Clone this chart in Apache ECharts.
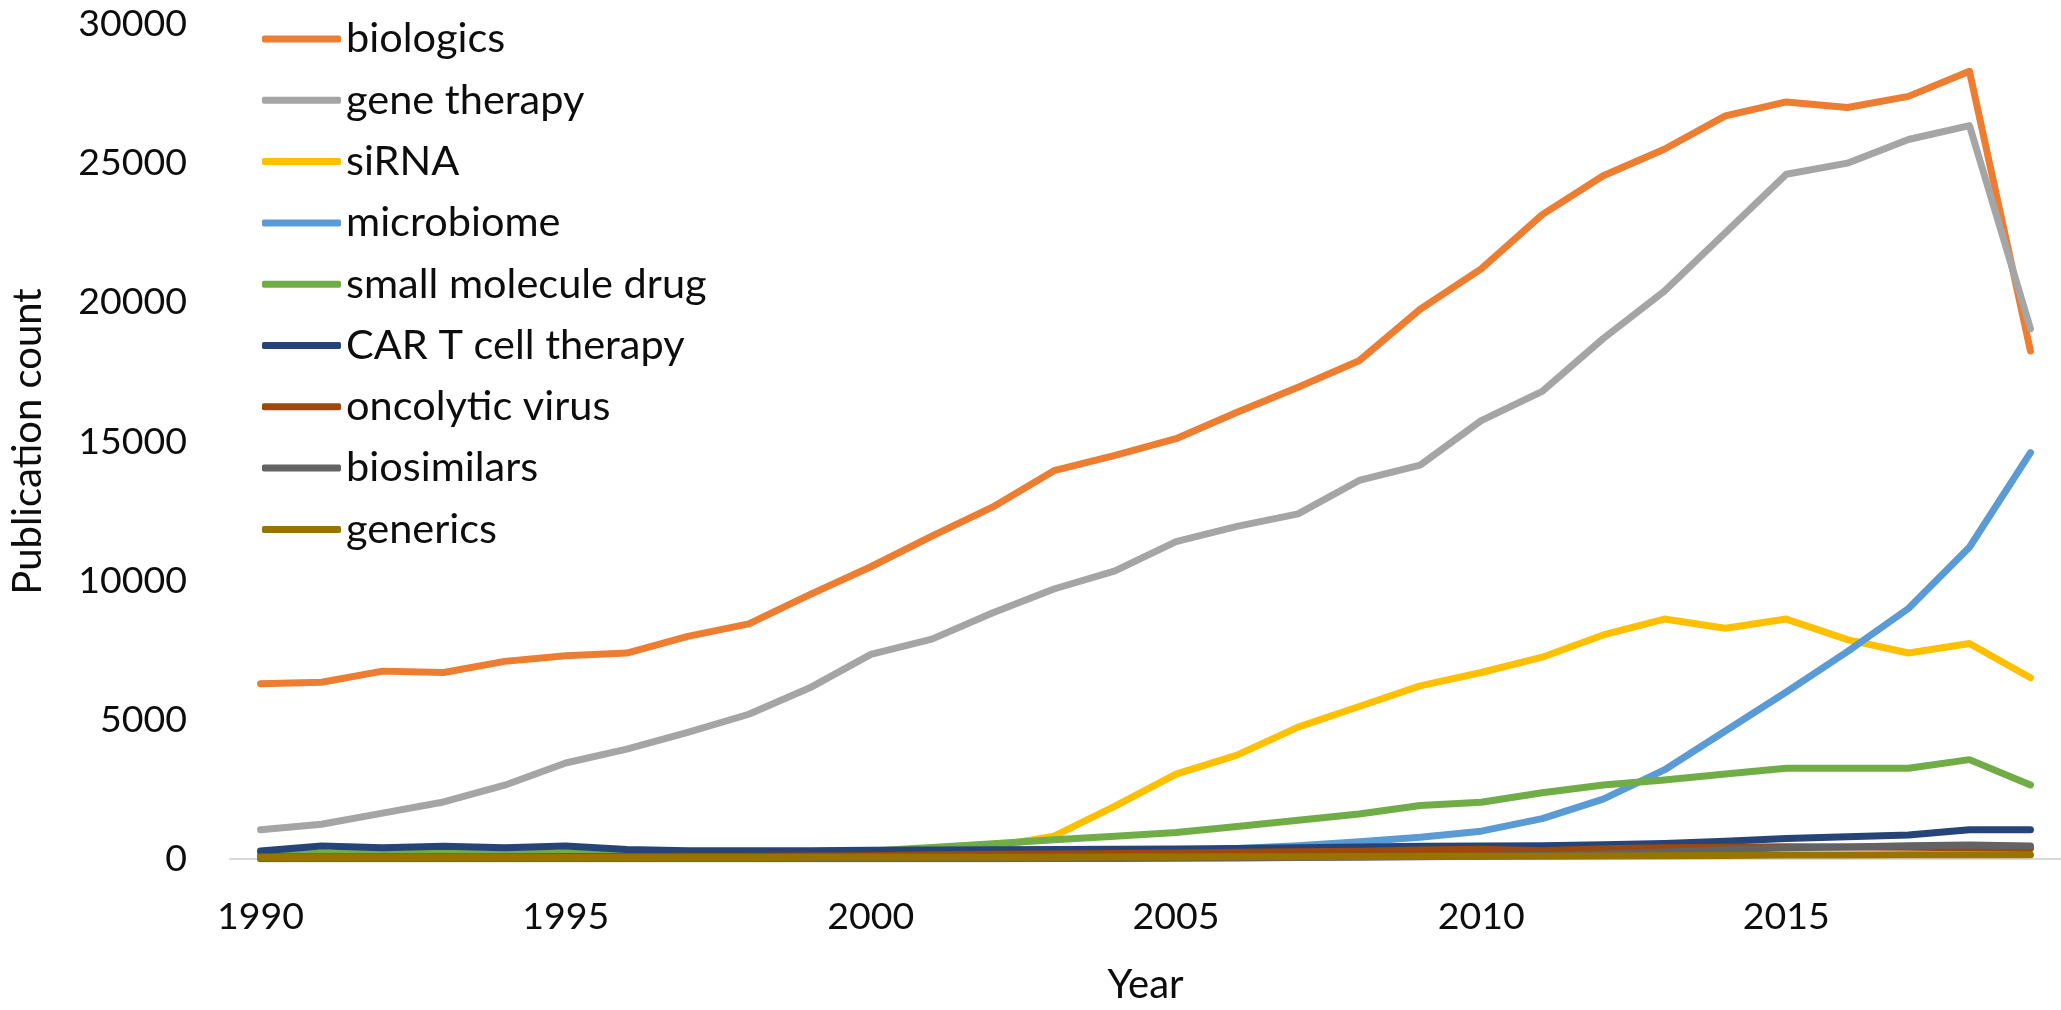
<!DOCTYPE html>
<html>
<head>
<meta charset="utf-8">
<script src="https://cdn.jsdelivr.net/npm/echarts@6/dist/echarts.min.js"></script>
<style>
html,body{margin:0;padding:0;background:#fff;}
#chart{width:2061px;height:1010px;}
</style>
</head>
<body>
<div id="chart"></div>
<script>
const years = ['1990','1991','1992','1993','1994','1995','1996','1997','1998','1999','2000','2001','2002','2003','2004','2005','2006','2007','2008','2009','2010','2011','2012','2013','2014','2015','2016','2017','2018','2019'];
const yTicks = [0, 5000, 10000, 15000, 20000, 25000, 30000];
const seriesNames = ['biologics','gene therapy','siRNA','microbiome','small molecule drug','CAR T cell therapy','oncolytic virus','biosimilars','generics'];
const seriesColors = ['#ED7D31','#A5A5A5','#FFC000','#5B9BD5','#70AD47','#264478','#9E480E','#636363','#997300'];

const biologics = [6300,6350,6750,6700,7100,7300,7400,8000,8450,9500,10500,11600,12650,13950,14500,15100,16050,16950,17900,19750,21200,23150,24550,25500,26700,27200,27000,27400,28300,18250];
const geneTherapy = [1050,1250,1650,2050,2650,3450,3950,4550,5200,6150,7350,7900,8850,9700,10350,11400,11950,12400,13600,14150,15750,16800,18700,20400,22500,24600,25000,25850,26350,19050];
const siRNA = [50,50,50,50,50,60,60,70,80,100,150,250,450,820,1900,3050,3730,4740,5480,6220,6700,7250,8050,8620,8290,8620,7880,7400,7740,6510];
const microbiome = [60,60,60,70,70,70,80,90,100,120,150,180,200,230,260,300,380,480,620,780,1000,1450,2150,3200,4600,6000,7450,9000,11200,14600];
const smallMolecule = [180,200,190,210,190,220,200,200,210,230,290,410,550,690,820,950,1170,1390,1620,1920,2040,2380,2660,2840,3050,3260,3260,3260,3570,2660];
const carT = [290,470,400,460,400,470,340,300,300,300,310,320,330,340,350,360,380,400,430,460,470,480,510,560,640,740,800,860,1050,1050];
const oncolyticVirus = [80,80,80,80,80,90,90,100,100,110,120,150,170,180,200,220,240,260,280,320,350,300,370,400,420,440,430,420,400,380];
const biosimilars = [10,10,10,10,10,10,10,10,10,10,10,10,10,15,20,30,40,50,60,80,100,130,180,250,330,400,430,480,500,470];
const generics = [50,50,50,50,50,50,50,55,55,60,60,60,60,65,70,75,80,85,90,95,100,100,110,120,130,140,140,150,150,150];

const seriesData = [biologics, geneTherapy, siRNA, microbiome, smallMolecule, carT, oncolyticVirus, biosimilars, generics];

const FONT = 'Lato';
const TXT = '#0d0d0d';

const chart = echarts.init(document.getElementById('chart'), null, {renderer: 'canvas'});
chart.setOption({
  animation: false,
  backgroundColor: '#ffffff',
  grid: {left: 213, right: 0, top: 24, bottom: 143.5, containLabel: false},
  legend: {
    orient: 'vertical',
    left: 257,
    top: 13,
    itemWidth: 79,
    itemHeight: 7,
    itemGap: 19.3,
    icon: 'roundRect',
    data: seriesNames,
    textStyle: {fontFamily: FONT, fontSize: 41.5, lineHeight: 42, color: TXT}
  },
  xAxis: {
    type: 'category',
    data: years,
    boundaryGap: true,
    name: 'Year',
    nameLocation: 'middle',
    nameGap: 106,
    nameTextStyle: {fontFamily: FONT, fontSize: 40, color: TXT},
    axisLine: {show: true, lineStyle: {color: '#d9d9d9', width: 2}},
    axisTick: {show: false},
    axisLabel: {interval: 4, margin: 39, fontFamily: FONT, fontSize: 37.5, color: TXT},
    splitLine: {show: false}
  },
  yAxis: {
    type: 'value',
    min: yTicks[0],
    max: yTicks[yTicks.length - 1],
    interval: yTicks[1] - yTicks[0],
    name: 'Publication count',
    nameLocation: 'middle',
    nameRotate: 90,
    nameGap: 182,
    nameTextStyle: {fontFamily: FONT, fontSize: 40, color: TXT},
    axisLine: {show: false},
    axisTick: {show: false},
    axisLabel: {margin: 43, fontFamily: FONT, fontSize: 37.5, color: TXT, formatter: v => String(v)},
    splitLine: {show: false}
  },
  series: seriesNames.map((name, i) => ({
    name: name,
    type: 'line',
    data: seriesData[i],
    symbol: 'none',
    showSymbol: false,
    smooth: false,
    color: seriesColors[i],
    itemStyle: {color: seriesColors[i]},
    lineStyle: {color: seriesColors[i], width: 7, cap: 'round', join: 'round'}
  }))
});
</script>
</body>
</html>
